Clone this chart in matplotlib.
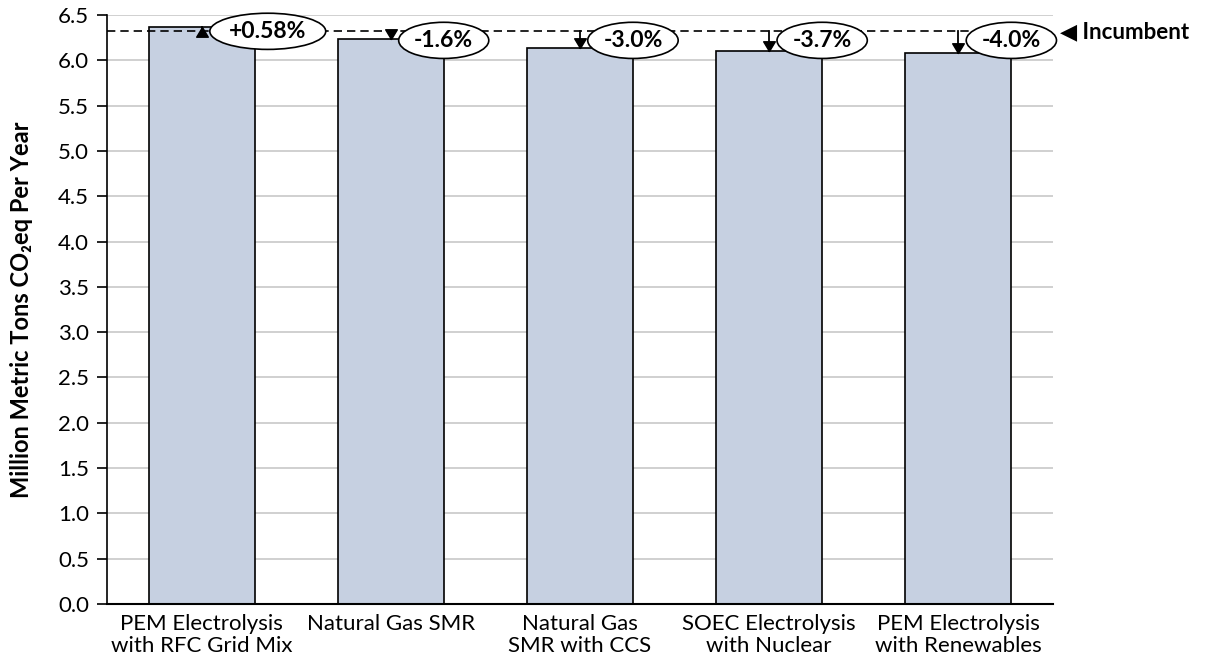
import numpy as np
import matplotlib.pyplot as plt
from matplotlib.path import Path

# data
categories = ['PEM Electrolysis\nwith RFC Grid Mix', 'Natural Gas SMR', 'Natural Gas\nSMR with CCS',
              'SOEC Electrolysis\nwith Nuclear', 'PEM Electrolysis\nwith Renewables']
emissions = [6.37, 6.23, 6.14, 6.10, 6.08]
pct_labels = ['+0.58%', '-1.6%', '-3.0%', '-3.7%', '-4.0%']
incumbent = 6.32
yticks = np.arange(0, 6.51, 0.5)

plt.rcParams['font.family'] = ['Lato', 'DejaVu Sans']

fig = plt.figure(figsize=(12.07, 6.64), dpi=100)
ax = fig.add_axes([0.0886, 0.0904, 0.7838, 0.887])

x = np.arange(len(categories))
ax.bar(x, emissions, width=0.56, color='#C6D0E1', edgecolor='black', linewidth=1.2, zorder=2)

ax.set_xlim(-0.5, len(categories) - 0.5)
ax.set_ylim(0, 6.5)
ax.set_yticks(yticks)
ax.set_yticklabels(['%.1f' % v for v in yticks], fontsize=16)
ax.set_xticks(x)
ax.set_xticklabels(categories, fontsize=16, linespacing=1.15)
ax.tick_params(axis='x', length=0, pad=7)
ax.tick_params(axis='y', length=7, width=1.2, direction='out', pad=6)
ax.grid(axis='y', color='#C8C8C8', linewidth=1.2, zorder=0)
ax.set_axisbelow(True)
for s in ['top', 'right']:
    ax.spines[s].set_visible(False)
ax.spines['left'].set_linewidth(1.2)
ax.spines['bottom'].set_linewidth(1.5)
ax.set_ylabel('Million Metric Tons CO₂eq Per Year', fontsize=17, fontweight='bold', labelpad=18)

# incumbent line
ax.axhline(incumbent, color='black', linestyle=(0, (5, 3)), linewidth=1.2, zorder=3)
ax.annotate('◀ Incumbent', xy=(1.0, incumbent), xycoords=('axes fraction', 'data'),
            xytext=(5, 0), textcoords='offset points', fontsize=16, fontweight='bold',
            va='center', ha='left', annotation_clip=False)

# arrows from incumbent to each bar top
up_tri = Path([(0, 0), (-0.6, -1), (0.6, -1), (0, 0)], closed=True)
down_tri = Path([(0, 0), (-0.6, 1), (0.6, 1), (0, 0)], closed=True)
for i, (val, lab) in enumerate(zip(emissions, pct_labels)):
    ax.plot([i, i], [incumbent, val], color='black', linewidth=1.3, zorder=4)
    marker = up_tri if val > incumbent else down_tri
    ax.plot(i, val, marker=marker, markersize=14, color='black', zorder=5)
    ly = incumbent if val > incumbent else incumbent - 0.1
    ax.text(i + 0.35 if val > incumbent else i + 0.28, ly, lab, fontsize=16.5, fontweight='bold',
            ha='center', va='center', zorder=6,
            bbox=dict(boxstyle='ellipse,pad=0.1', fc='white', ec='black', lw=1.2))

fig.savefig('out.png', dpi=100)
